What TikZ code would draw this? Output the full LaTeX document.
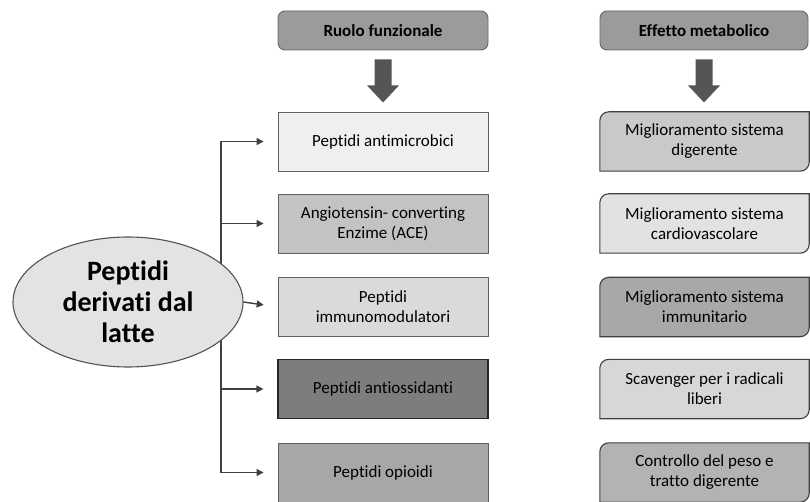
\documentclass[tikz,border=0pt]{standalone}
\usepackage{fontspec}
\setmainfont{Carlito}[Ligatures={NoCommon}]
\usetikzlibrary{shapes.geometric,backgrounds,arrows.meta}
\definecolor{hdrfill}{HTML}{9B9B9B}
\definecolor{cA}{HTML}{EFEFEF}
\definecolor{cB}{HTML}{C3C3C3}
\definecolor{cC}{HTML}{DADADA}
\definecolor{cD}{HTML}{7D7D7D}
\definecolor{cE}{HTML}{A7A7A7}
\definecolor{rA}{HTML}{C9C9C9}
\definecolor{rB}{HTML}{E2E2E2}
\definecolor{rC}{HTML}{A8A8A8}
\definecolor{rD}{HTML}{D7D7D7}
\definecolor{rE}{HTML}{B3B3B3}
\definecolor{ellfill}{HTML}{E3E3E3}
\definecolor{linegray}{HTML}{404040}
\definecolor{arrgray}{HTML}{555555}
\newcommand\myRshape[2]{%
\begin{scope}[on background layer]
\draw[draw=linegray, line width=1.1pt, fill=#2] (#1.west) {[rounded corners=9pt] -- (#1.north west) -- (#1.north)} -- (#1.north east) -- (#1.east) {[rounded corners=9pt] -- (#1.south east) -- (#1.south)} -- (#1.south west) -- cycle;
\end{scope}}
\newcommand\myDownArrow[1]{%
\fill[arrgray] ([shift={(-8.5,9)}]#1.south) -- ([shift={(8.5,9)}]#1.south) -- ([shift={(8.5,35)}]#1.south) -- ([shift={(16,35)}]#1.south) -- ([shift={(0,52)}]#1.south) -- ([shift={(-16,35)}]#1.south) -- ([shift={(-8.5,35)}]#1.south) -- cycle;}
\begin{document}
\begin{tikzpicture}[x=1pt,y=-1pt,
  lbox/.style={draw=black!62, line width=0.9pt, minimum width=210pt, minimum height=59pt, align=center, inner sep=0pt, font=\fontsize{17}{20}\selectfont},
  rbox/.style={minimum width=209pt, minimum height=59pt, align=center, inner sep=0pt, font=\fontsize{17}{20}\selectfont},
  hdr/.style={draw=black!60, line width=0.9pt, rounded corners=7pt, fill=hdrfill, minimum height=39pt, inner sep=0pt, font=\bfseries\fontsize{17}{20}\selectfont},
  conn/.style={draw=linegray, line width=1.4pt},
  branch/.style={conn, -{Triangle[length=7pt,width=7pt]}, shorten >=14pt}]
\useasboundingbox (0,0) rectangle (810,502);

% headers
\node[hdr, minimum width=210pt] (h1) at (383,30.5) {Ruolo funzionale};
\node[hdr, minimum width=208pt] (h2) at (704,30.5) {Effetto metabolico};
\myDownArrow{h1}
\myDownArrow{h2}

% left column
\node[lbox, fill=cA] (b1) at (383,141.5) {Peptidi antimicrobici};
\node[lbox, fill=cB] (b2) at (383,223.5) {Angiotensin- converting\\Enzime (ACE)};
\node[lbox, fill=cC] (b3) at (383,307) {Peptidi\\immunomodulatori};
\node[lbox, fill=cD, draw=black!85, line width=1.3pt] (b4) at (383,389) {Peptidi antiossidanti};
\node[lbox, fill=cE] (b5) at (383,472.5) {Peptidi opioidi};

% right column
\node[rbox] (r1) at (704.5,141.5) {Miglioramento sistema\\digerente};
\myRshape{r1}{rA}
\node[rbox] (r2) at (704.5,223.5) {Miglioramento sistema\\cardiovascolare};
\myRshape{r2}{rB}
\node[rbox] (r3) at (704.5,307) {Miglioramento sistema\\immunitario};
\myRshape{r3}{rC}
\node[rbox] (r4) at (704.5,389) {Scavenger per i radicali\\liberi};
\myRshape{r4}{rD}
\node[rbox] (r5) at (704.5,472.5) {Controllo del peso e\\tratto digerente};
\myRshape{r5}{rE}

% tree connectors
\coordinate (jt) at (221,141.5);
\coordinate (jb) at (221,472.5);
\draw[conn] (jt) -- (jb);
\draw[branch] (jt) -- (b1.west);
\draw[branch] (jt |- b2.west) -- (b2.west);
\draw[branch] (jt |- b4.west) -- (b4.west);
\draw[branch] (jb) -- (b5.west);

% ellipse
\node[ellipse, draw=black!68, line width=1.1pt, fill=ellfill, minimum width=230pt, minimum height=130pt, inner sep=0pt, align=center, font=\bfseries\fontsize{28}{31}\selectfont] (ell) at (128,302) {Peptidi\\derivati dal\\latte};
\draw[branch] (ell.east) -- (b3.west);
\end{tikzpicture}
\end{document}
